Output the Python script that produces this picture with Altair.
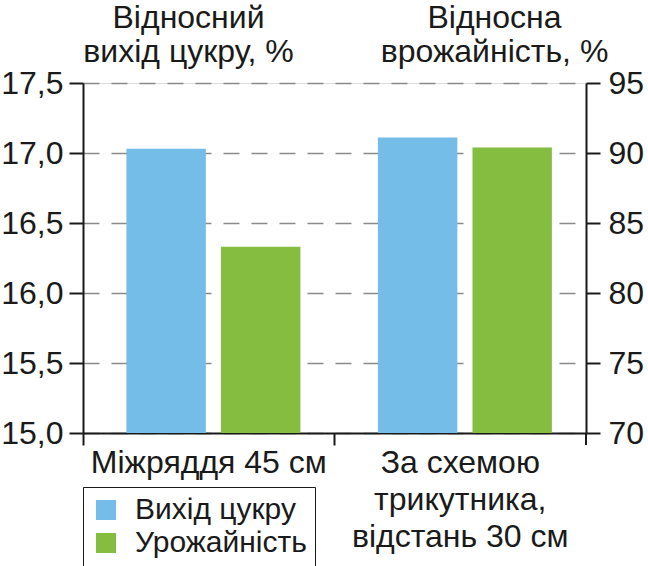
import altair as alt
import pandas as pd

categories = ["Міжряддя 45 см", "За схемою|трикутника,|відстань 30 см"]
series_names = ["Вихід цукру", "Урожайність"]
sugar_yield = [17.03, 17.11]      # відносний вихід цукру, %
crop_yield = [83.3, 90.4]         # відносна врожайність, %
left_ticks = [15.0, 15.5, 16.0, 16.5, 17.0, 17.5]
right_ticks = [70, 75, 80, 85, 90, 95]
colors = ["#75bde9", "#85bd41"]

rows = []
for c, s, y in zip(categories, sugar_yield, crop_yield):
    rows.append({"cat": c, "series": series_names[0], "value": s})
    rows.append({"cat": c, "series": series_names[1], "value": y})
df = pd.DataFrame(rows)

FONT = "Liberation Sans"
FS = 32
INK = "#1a1a1a"

x_enc = alt.X(
    "cat:N",
    sort=categories,
    scale=alt.Scale(paddingInner=0, paddingOuter=0),
    axis=alt.Axis(
        title=None,
        labelAngle=0,
        labelExpr="split(datum.label, '|')",
        labelLineHeight=37,
        labelFontSize=FS,
        labelFont=FONT,
        labelColor=INK,
        labelBaseline="alphabetic",
        labelPadding=27,
        labelLimit=400,
        bandPosition=0,
        tickSize=12,
        tickWidth=2,
        tickColor=INK,
        domainColor=INK,
        domainWidth=2,
    ),
)
xoff = alt.XOffset(
    "series:N",
    sort=series_names,
    scale=alt.Scale(domain=series_names, paddingInner=0.16, paddingOuter=0.41, align=0.56),
)
color = alt.Color(
    "series:N",
    sort=series_names,
    scale=alt.Scale(domain=series_names, range=colors),
    legend=alt.Legend(
        title=None,
        orient="none",
        legendX=0,
        legendY=404,
        direction="vertical",
        symbolType="square",
        symbolSize=400,
        symbolStrokeWidth=0,
        symbolOpacity=1,
        labelFontSize=30,
        labelFont=FONT,
        labelColor=INK,
        labelOffset=14,
        rowPadding=3,
        padding=8,
        strokeColor=INK,
        labelLimit=400,
    ),
)

left = alt.Chart(df).transform_filter(
    alt.datum.series == series_names[0]
).mark_bar().encode(
    x=x_enc,
    xOffset=xoff,
    y=alt.Y(
        "value:Q",
        scale=alt.Scale(domain=[15, 17.5], zero=False, nice=False),
        axis=alt.Axis(
            orient="left",
            values=left_ticks,
            labelExpr="replace(format(datum.value, '.1f'), '.', ',')",
            labelFontSize=FS,
            labelFont=FONT,
            labelColor=INK,
            labelPadding=6,
            tickSize=14,
            tickWidth=2,
            tickColor=INK,
            domainColor=INK,
            domainWidth=2,
            grid=True,
            gridDash=[16, 12],
            gridColor="#8a8a8a",
            gridWidth=1.5,
            title=["Відносний", "вихід цукру, %"],
            titleAngle=0,
            titleAlign="center",
            titleBaseline="alphabetic",
            titleX=105,
            titleY=-56,
            titleFontSize=FS,
            titleFont=FONT,
            titleFontWeight="normal",
            titleColor=INK,
            titleLineHeight=34,
        ),
    ),
    y2=alt.Y2(datum=15),
    color=color,
)

right = alt.Chart(df).transform_filter(
    alt.datum.series == series_names[1]
).mark_bar().encode(
    x=x_enc,
    xOffset=xoff,
    y=alt.Y(
        "value:Q",
        scale=alt.Scale(domain=[70, 95], zero=False, nice=False),
        axis=alt.Axis(
            orient="right",
            values=right_ticks,
            format="d",
            labelFontSize=FS,
            labelFont=FONT,
            labelColor=INK,
            labelPadding=8,
            tickSize=14,
            tickWidth=2,
            tickColor=INK,
            domainColor=INK,
            domainWidth=2,
            grid=False,
            title=["Відносна", "врожайність, %"],
            titleAngle=0,
            titleAlign="center",
            titleBaseline="alphabetic",
            titleX=-92,
            titleY=-56,
            titleFontSize=FS,
            titleFont=FONT,
            titleFontWeight="normal",
            titleColor=INK,
            titleLineHeight=34,
        ),
    ),
    y2=alt.Y2(datum=70),
    color=color,
)

# closing tick at the right end of the category axis
end_tick = alt.Chart(df).mark_rule(color=INK, strokeWidth=2).encode(
    x=alt.value(503), y=alt.value(350), y2=alt.value(362)
)

chart = (
    alt.layer(left, right, end_tick)
    .resolve_scale(y="independent")
    .properties(
        width=503,
        height=350,
        autosize=alt.AutoSizeParams(type="none"),
        padding={"left": 83, "top": 83, "right": 62, "bottom": 133},
    )
    .configure_view(stroke=None)
    .configure_legend(strokeWidth=1.5)
    .configure(font=FONT)
)

chart.save("out.html", embed_options={"renderer": "svg", "actions": False})
